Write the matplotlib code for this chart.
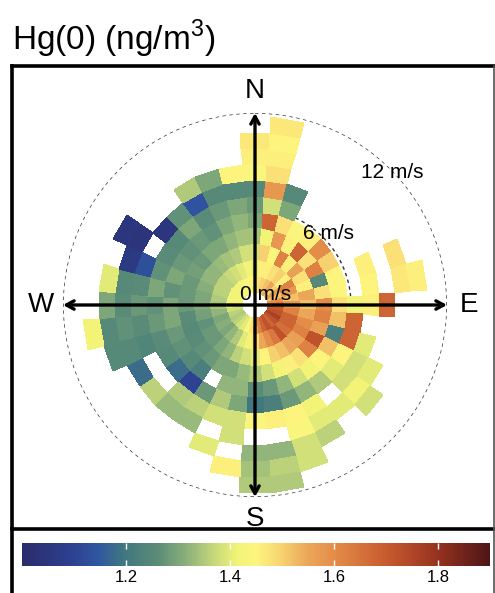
import numpy as np
import matplotlib
matplotlib.use("Agg")
import matplotlib.pyplot as plt
from matplotlib.colors import LinearSegmentedColormap, Normalize
from matplotlib.cm import ScalarMappable
from matplotlib.lines import Line2D

plt.rcParams['font.family'] = ['Liberation Sans', 'DejaVu Sans']
plt.rcParams['mathtext.fontset'] = 'custom'
plt.rcParams['mathtext.rm'] = 'Liberation Sans'

n = np.nan

# wind sectors (deg clockwise from north) and wind speed ring edges (m/s)
sectors = np.arange(0, 360, 10)
speed_edges = np.arange(0.8, 12.0, 1.0)

# mean Hg(0) (ng/m3) per sector (rows) and speed ring (columns), nan = no data
hg = [
    [1.45, 1.40, 1.38, 1.34, 1.30, 1.28, 1.25, 1.44, 1.46, 1.47, n],     # 0
    [1.48, 1.46, 1.50, 1.42, 1.68, 1.38, 1.58, 1.48, 1.46, 1.45, 1.47],  # 10
    [1.50, 1.46, 1.44, 1.58, 1.48, 1.30, 1.25, n, n, n, n],              # 20
    [1.52, 1.48, 1.62, 1.46, 1.44, n, n, n, n, n, n],                    # 30
    [1.55, 1.50, 1.46, 1.68, 1.46, n, n, n, n, n, n],                    # 40
    [1.50, 1.46, 1.56, 1.48, 1.60, n, n, n, n, n, n],                    # 50
    [1.56, 1.62, 1.48, 1.62, 1.50, n, n, n, n, n, n],                    # 60
    [1.52, 1.58, 1.46, 1.25, 1.45, n, 1.46, n, 1.48, n, n],              # 70
    [1.60, 1.52, 1.55, 1.48, 1.44, n, 1.45, n, 1.47, 1.46, n],           # 80
    [1.65, 1.58, 1.52, 1.60, 1.48, 1.42, 1.46, 1.68, n, n, n],           # 90
    [1.70, 1.62, 1.55, 1.62, 1.52, 1.68, n, n, n, n, n],                 # 100
    [1.72, 1.68, 1.60, 1.56, 1.22, 1.68, 1.40, n, n, n, n],              # 110
    [1.76, 1.68, 1.62, 1.72, 1.52, 1.45, 1.38, 1.40, n, n, n],           # 120
    [1.72, 1.66, 1.56, 1.62, 1.45, 1.40, 1.38, 1.42, 1.38, n, n],        # 130
    [1.68, 1.72, 1.55, 1.48, 1.42, 1.35, n, 1.40, n, n, n],              # 140
    [1.72, 1.64, 1.52, 1.46, 1.38, 1.32, 1.42, 1.40, 1.36, n, n],        # 150
    [1.68, 1.60, 1.50, 1.42, 1.32, 1.28, 1.45, 1.44, 1.38, 1.38, n],     # 160
    [1.62, 1.55, 1.45, 1.38, 1.28, 1.22, 1.46, n, 1.32, 1.36, 1.35],     # 170
    [1.55, 1.48, 1.40, 1.35, 1.26, 1.20, 1.44, n, 1.32, 1.34, 1.35],     # 180
    [1.48, 1.42, 1.38, 1.33, 1.32, 1.30, 1.38, 1.38, n, 1.46, n],        # 190
    [1.44, 1.40, 1.36, 1.30, 1.32, 1.35, 1.38, n, 1.40, n, n],           # 200
    [1.40, 1.35, 1.32, 1.30, n, 1.28, 1.36, 1.33, n, n, n],              # 210
    [1.38, 1.32, 1.30, 1.28, 1.22, 1.10, 1.35, 1.33, n, n, n],           # 220
    [1.36, 1.30, 1.28, 1.27, 1.25, 1.18, n, 1.36, n, n, n],              # 230
    [1.35, 1.31, 1.28, 1.26, 1.27, 1.25, n, 1.18, n, n, n],              # 240
    [1.36, 1.30, 1.27, 1.25, 1.28, 1.26, 1.24, 1.25, 1.25, n, n],        # 250
    [1.38, 1.32, 1.29, 1.26, 1.30, 1.28, 1.26, 1.27, 1.25, 1.42, n],     # 260
    [1.40, 1.34, 1.30, 1.28, 1.30, 1.27, 1.28, 1.26, 1.30, n, n],        # 270
    [1.42, 1.35, 1.30, 1.28, 1.27, 1.30, 1.26, 1.25, 1.40, n, n],        # 280
    [1.42, 1.36, 1.31, 1.28, 1.30, 1.27, 1.13, 1.06, n, n, n],           # 290
    [1.42, 1.36, 1.32, 1.29, 1.28, 1.26, n, 1.04, 1.05, n, n],           # 300
    [1.42, 1.36, 1.32, 1.28, 1.27, 1.25, 1.05, n, n, n, n],              # 310
    [1.42, 1.37, 1.33, 1.30, 1.28, 1.30, 1.27, n, n, n, n],              # 320
    [1.43, 1.38, 1.34, 1.30, 1.27, 1.26, 1.14, 1.35, n, n, n],           # 330
    [1.44, 1.40, 1.35, 1.32, 1.30, 1.28, 1.25, 1.30, n, n, n],           # 340
    [1.45, 1.42, 1.38, 1.34, 1.32, 1.30, 1.25, 1.45, n, n, n],           # 350
]

cbar_ticks = [1.2, 1.4, 1.6, 1.8]
vmin, vmax = 1.0, 1.9

cmap = LinearSegmentedColormap.from_list('hg', [
    (0.00, '#2b2c6c'), (0.10, '#2d3f8e'), (0.16, '#2f56a0'),
    (0.22, '#41787f'), (0.29, '#5b8c78'), (0.35, '#8ab07a'),
    (0.41, '#c5d87a'), (0.46, '#f1f476'), (0.50, '#fdf57e'),
    (0.55, '#f8d672'), (0.61, '#eba75a'), (0.67, '#e38b48'),
    (0.78, '#c75a2e'), (0.89, '#963220'), (1.00, '#4d1618')])
norm = Normalize(vmin, vmax)

fig = plt.figure(figsize=(4.95, 5.93), dpi=100)

# polar panel
ax = fig.add_axes([63 / 495, 96 / 593, 384 / 495, 384 / 593], projection='polar')
ax.set_theta_zero_location('N')
ax.set_theta_direction(-1)
ax.set_ylim(0, 12)
ax.grid(False)
ax.set_xticks([])
ax.set_yticks([])
ax.spines['polar'].set_visible(False)
ax.patch.set_alpha(0)

th = np.linspace(0, 2 * np.pi, 400)
for rr in (6, 12):
    ax.plot(th, np.full_like(th, rr), color='#333333', lw=1.0,
            ls=(0, (2.5, 2.5)), zorder=1)

theta_edges = np.deg2rad(np.append(sectors - 5, 355))
grid = np.ma.masked_invalid(np.array(hg, dtype=float))
ax.pcolormesh(theta_edges, speed_edges, grid.T, cmap=cmap, norm=norm,
              shading='flat', zorder=2)

arrow = dict(arrowstyle='<->,head_length=0.55,head_width=0.3', lw=2.4,
             color='black', shrinkA=0, shrinkB=0)
ax.annotate('', xy=(0, 12), xytext=(np.pi, 12), arrowprops=arrow,
            annotation_clip=False, zorder=5)
ax.annotate('', xy=(np.pi / 2, 12), xytext=(3 * np.pi / 2, 12), arrowprops=arrow,
            annotation_clip=False, zorder=5)

for lab, ang in zip(['N', 'E', 'S', 'W'], [0, 90, 180, 270]):
    ax.text(np.deg2rad(ang), 13.35, lab, ha='center', va='center',
            fontsize=20, clip_on=False, zorder=6)

ax.text(np.deg2rad(45), 0.9, '0 m/s', ha='center', va='center', fontsize=15, zorder=6)
ax.text(np.deg2rad(46), 6.4, '6 m/s', ha='center', va='center', fontsize=15, zorder=6)
ax.text(np.deg2rad(46), 11.9, '12 m/s', ha='center', va='center', fontsize=15,
        zorder=6, clip_on=False)

# colour bar
cax = fig.add_axes([22 / 495, 27 / 593, 468 / 495, 23 / 593])
cb = fig.colorbar(ScalarMappable(norm=norm, cmap=cmap), cax=cax,
                  orientation='horizontal', ticks=cbar_ticks)
cb.outline.set_visible(False)
cax.tick_params(axis='x', direction='in', length=4, width=1, color='white',
                top=True, bottom=True, labelsize=12, pad=3)

# title and frame
fig.text(12 / 495, 1 - 50 / 593, 'Hg(0) (ng/m$^3$)', fontsize=24, va='baseline')
frame = dict(color='black', lw=2.6, transform=fig.transFigure)
fig.add_artist(Line2D([12 / 495, 494 / 495], [1 - 66 / 593] * 2, **frame))
fig.add_artist(Line2D([12 / 495, 494 / 495], [1 - 529 / 593] * 2, **frame))
fig.add_artist(Line2D([12 / 495] * 2, [0, 1 - 66 / 593], **frame))
fig.add_artist(Line2D([494 / 495] * 2, [0, 1 - 66 / 593], color='#555555', lw=1.2,
                      transform=fig.transFigure))

fig.savefig('out.png', dpi=100)
